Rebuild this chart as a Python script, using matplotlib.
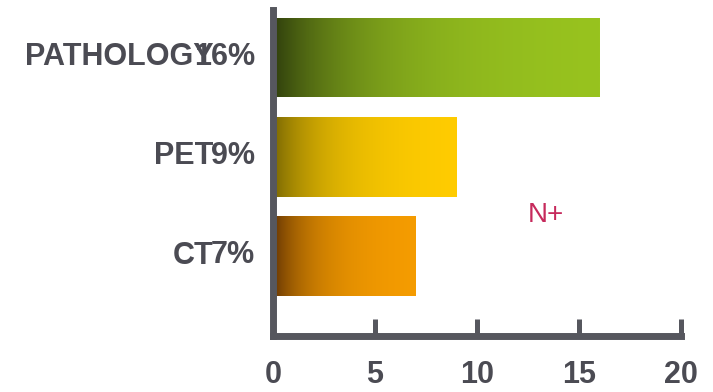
import numpy as np
import matplotlib
matplotlib.use("Agg")
import matplotlib.pyplot as plt
from matplotlib.colors import LinearSegmentedColormap, to_rgb
from matplotlib.transforms import ScaledTranslation

# Data
categories = ["CT", "PET", "PATHOLOGY"]
values = [7, 9, 16]
value_labels = ["7%", "9%", "16%"]
x_ticks = [0, 5, 10, 15, 20]
note = "N+"

# Gradient end colours per bar (dark left edge -> bright right edge)
dark_colors = ["#673604", "#7a6804", "#303f0d"]
bright_colors = ["#f59c00", "#ffcc00", "#98c31f"]

axis_color = "#56575e"
text_color = "#4b4b53"

plt.rcParams["font.family"] = ["Liberation Sans", "DejaVu Sans"]


def smooth_cmap(dark, bright, n=32):
    """Ease-out blend from the dark colour to the bright one."""
    d, b = np.array(to_rgb(dark)), np.array(to_rgb(bright))
    t = np.linspace(0, 1, n)
    k = (1 - np.exp(-t / 0.28)) / (1 - np.exp(-1 / 0.28))
    cols = [tuple(d + (b - d) * kk) for kk in k]
    return LinearSegmentedColormap.from_list("g", list(zip(t, cols)))


fig = plt.figure(figsize=(7.13, 3.92), dpi=100)
ax = fig.add_axes([0.3829, 0.1416, 0.5722, 0.8329])

ypos = np.arange(len(categories))
bars = ax.barh(ypos, values, height=0.8, color="none", edgecolor="none")

grad = np.linspace(0, 1, 512).reshape(1, -1)
for patch, dk, br in zip(bars.patches, dark_colors, bright_colors):
    x0, y0 = patch.get_x(), patch.get_y()
    w, h = patch.get_width(), patch.get_height()
    im = ax.imshow(grad, cmap=smooth_cmap(dk, br), aspect="auto",
                   extent=[x0, x0 + w, y0, y0 + h], zorder=1,
                   interpolation="bilinear")
    im.set_clip_path(patch)

ax.set_xlim(0, 20)
ax.set_ylim(-0.81, 2.48)

for side in ["top", "right"]:
    ax.spines[side].set_visible(False)
for side in ["left", "bottom"]:
    ax.spines[side].set_linewidth(5)
    ax.spines[side].set_color(axis_color)
    ax.spines[side].set_zorder(3)

ax.set_xticks(x_ticks)
ax.set_xticklabels([str(t) for t in x_ticks])
ax.tick_params(axis="x", direction="in", length=12, width=3.6, color=axis_color,
               pad=17, labelsize=22, labelcolor=text_color)
ax.set_yticks(ypos)
ax.set_yticklabels(categories)
ax.tick_params(axis="y", length=0, pad=43, labelsize=22, labelcolor=text_color)

lift = ScaledTranslation(0, 4 / 100, fig.dpi_scale_trans)
for lbl in ax.get_xticklabels():
    lbl.set_fontweight("bold")
for lbl in ax.get_yticklabels():
    lbl.set_fontweight("bold")
    lbl.set_transform(lbl.get_transform() + lift)

# Percentage labels next to the category names
for y, lab in zip(ypos, value_labels):
    ax.annotate(lab, xy=(0, y), xycoords=ax.get_yaxis_transform(),
                xytext=(-13, 3), textcoords="offset points",
                ha="right", va="center_baseline", fontsize=22, fontweight="bold",
                color=text_color)

ax.text(13.4, 0.41, note, ha="center", va="center", fontsize=20, color="#c62a5c")

fig.savefig("out.png", dpi=100)
